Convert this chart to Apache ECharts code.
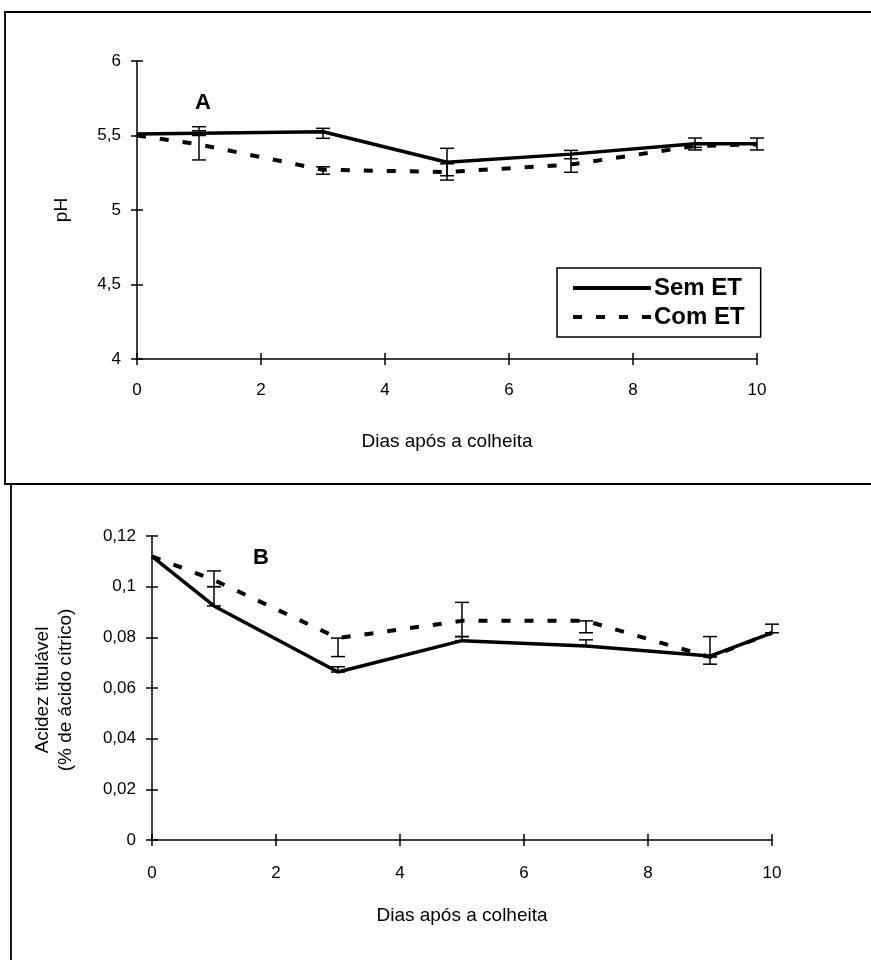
<!DOCTYPE html>
<html>
<head>
<meta charset="utf-8">
<script src="https://cdn.jsdelivr.net/npm/echarts@6/dist/echarts.min.js"></script>
<style>
  html, body { margin: 0; padding: 0; background: #fff; }
  #main { width: 871px; height: 960px; }
</style>
</head>
<body>
<div id="main"></div>
<script>
// days after harvest
const days = [0, 1, 3, 5, 7, 9, 10];

// panel A - pH
const phSem = [5.51, 5.515, 5.525, 5.32, 5.375, 5.445, 5.445];
const phCom = [5.50, 5.44, 5.27, 5.255, 5.305, 5.43, 5.44];
// error bars [day, low, high]
const phSemErr = [[1, 5.50, 5.532], [3, 5.481, 5.548], [5, 5.23, 5.414], [7, 5.344, 5.40], [9, 5.403, 5.483], [10, 5.403, 5.483]];
const phComErr = [[1, 5.336, 5.559], [3, 5.24, 5.29], [5, 5.201, 5.31], [7, 5.253, 5.376], [9, 5.42, 5.44]];

// panel B - titratable acidity
const acSem = [0.112, 0.0924, 0.0663, 0.0787, 0.0766, 0.0726, 0.0818];
const acCom = [0.112, 0.1026, 0.0797, 0.0865, 0.0865, 0.0722, 0.0818];
const acSemErr = [[1, 0.0924, 0.100], [3, 0.0663, 0.0684], [5, 0.0787, 0.0803], [7, 0.0766, 0.079], [9, 0.0694, 0.0726], [10, 0.0818, 0.0852]];
const acComErr = [[1, 0.100, 0.1062], [3, 0.0724, 0.0797], [5, 0.0803, 0.0938], [7, 0.0818, 0.0865], [9, 0.0722, 0.0803]];

const FONT = 'Liberation Sans, Arial, sans-serif';
const comma = v => String(+v.toFixed(2)).replace('.', ',');
const pair = (xs, ys) => xs.map((x, i) => [x, ys[i]]);

// legend icons: plain bar and four dashes
const solidIcon = 'path://M0,0h78v4h-78z';
const dashIcon = 'path://M0,0h9v4h-9zM23,0h9v4h-9zM46,0h9v4h-9zM69,0h9v4h-9z';

function errBar(params, api) {
  const lo = api.coord([api.value(0), api.value(1)]);
  const hi = api.coord([api.value(0), api.value(2)]);
  const w = 7;
  const st = { stroke: '#000', lineWidth: 1.5 };
  return {
    type: 'group',
    children: [
      { type: 'line', shape: { x1: lo[0], y1: lo[1], x2: hi[0], y2: hi[1] }, style: st },
      { type: 'line', shape: { x1: lo[0] - w, y1: lo[1], x2: lo[0] + w, y2: lo[1] }, style: st },
      { type: 'line', shape: { x1: hi[0] - w, y1: hi[1], x2: hi[0] + w, y2: hi[1] }, style: st }
    ]
  };
}

const axisLine = { show: true, lineStyle: { color: '#000', width: 1.5 } };
const tick = { show: true, length: 6, lineStyle: { color: '#000', width: 1.5 } };
const lbl = { color: '#000', fontFamily: FONT, fontSize: 17 };

function xAxes(gi, margin, nameGap) {
  return [
    {
      gridIndex: gi, type: 'value', position: 'bottom', min: 0, max: 10, interval: 2,
      axisLine, axisTick: tick, splitLine: { show: false },
      axisLabel: Object.assign({ margin }, lbl),
      name: 'Dias após a colheita', nameLocation: 'middle', nameGap,
      nameTextStyle: { color: '#000', fontFamily: FONT, fontSize: 19 }
    },
    {
      gridIndex: gi, type: 'value', position: 'bottom', min: 0, max: 10, interval: 2,
      axisLine: { show: false }, axisTick: Object.assign({ inside: true }, tick),
      axisLabel: { show: false }, splitLine: { show: false }
    }
  ];
}

function yAxes(gi, min, max, interval) {
  return [
    {
      gridIndex: gi, type: 'value', position: 'left', min, max, interval,
      axisLine, axisTick: tick, splitLine: { show: false },
      axisLabel: Object.assign({ margin: 16, formatter: comma }, lbl)
    },
    {
      gridIndex: gi, type: 'value', position: 'left', min, max, interval,
      axisLine: { show: false }, axisTick: Object.assign({ inside: true }, tick),
      axisLabel: { show: false }, splitLine: { show: false }
    }
  ];
}

const solid = { color: '#000', width: 3.5, type: 'solid' };
const dashed = { color: '#000', width: 4, type: [9, 14], cap: 'butt' };

const chart = echarts.init(document.getElementById('main'));
const option = {
  backgroundColor: '#fff',
  animation: false,
  grid: [
    { left: 137, right: 114, top: 61, height: 298 },
    { left: 152, right: 99, top: 536, height: 304 }
  ],
  xAxis: [...xAxes(0, 23, 73), ...xAxes(1, 25, 66)],
  yAxis: [...yAxes(0, 4, 6, 0.5), ...yAxes(1, 0, 0.12, 0.02)],
  legend: {
    data: [
      { name: 'Sem ET', icon: solidIcon },
      { name: 'Com ET', icon: dashIcon }
    ],
    orient: 'vertical',
    left: 557, top: 268,
    itemWidth: 78, itemHeight: 4, itemGap: 5,
    padding: [8, 16, 8, 16],
    borderColor: '#000', borderWidth: 1.5,
    itemStyle: { color: '#000', borderWidth: 0 },
    lineStyle: { width: 0 },
    textStyle: { color: '#000', fontFamily: FONT, fontSize: 24, fontWeight: 'bold', padding: [0, 0, 0, -2] }
  },
  graphic: [
    { type: 'rect', shape: { x: 5, y: 12, width: 900, height: 472 }, style: { fill: 'none', stroke: '#000', lineWidth: 1.8 }, silent: true },
    { type: 'rect', shape: { x: 11, y: 484, width: 900, height: 520 }, style: { fill: 'none', stroke: '#000', lineWidth: 1.8 }, silent: true },
    { type: 'text', left: 195, top: 92, style: { text: 'A', font: 'bold 22px ' + FONT, fill: '#000' } },
    { type: 'text', left: 253, top: 547, style: { text: 'B', font: 'bold 22px ' + FONT, fill: '#000' } },
    { type: 'text', x: 62, y: 210, rotation: Math.PI / 2, style: { text: 'pH', font: '19px ' + FONT, fill: '#000', align: 'center', verticalAlign: 'middle' } },
    { type: 'text', x: 54, y: 690, rotation: Math.PI / 2, style: { text: 'Acidez titulável\n(% de ácido cítrico)', font: '19px ' + FONT, lineHeight: 23, fill: '#000', align: 'center', verticalAlign: 'middle' } }
  ],
  series: [
    { name: 'Sem ET', type: 'line', xAxisIndex: 0, yAxisIndex: 0, data: pair(days, phSem), symbol: 'none', lineStyle: solid, itemStyle: { color: '#000' }, z: 3 },
    { name: 'Com ET', type: 'line', xAxisIndex: 0, yAxisIndex: 0, data: pair(days, phCom), symbol: 'none', lineStyle: dashed, itemStyle: { color: '#000' }, z: 3 },
    { type: 'custom', xAxisIndex: 0, yAxisIndex: 0, data: phSemErr, renderItem: errBar, z: 4 },
    { type: 'custom', xAxisIndex: 0, yAxisIndex: 0, data: phComErr, renderItem: errBar, z: 4 },
    { name: 'Sem ET', type: 'line', xAxisIndex: 2, yAxisIndex: 2, data: pair(days, acSem), symbol: 'none', lineStyle: solid, itemStyle: { color: '#000' }, z: 3 },
    { name: 'Com ET', type: 'line', xAxisIndex: 2, yAxisIndex: 2, data: pair(days, acCom), symbol: 'none', lineStyle: dashed, itemStyle: { color: '#000' }, z: 3 },
    { type: 'custom', xAxisIndex: 2, yAxisIndex: 2, data: acSemErr, renderItem: errBar, z: 4 },
    { type: 'custom', xAxisIndex: 2, yAxisIndex: 2, data: acComErr, renderItem: errBar, z: 4 }
  ]
};
chart.setOption(option);
</script>
</body>
</html>
